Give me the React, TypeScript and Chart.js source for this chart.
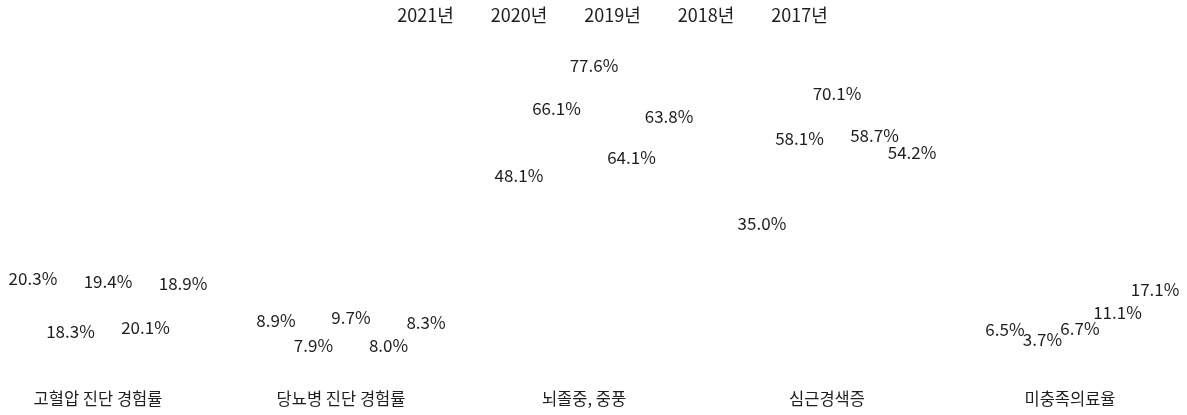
import { useEffect, useRef } from 'react';
import { Chart, registerables } from 'chart.js';

Chart.register(...registerables);

const categories = ['고혈압 진단 경험률', '당뇨병 진단 경험률', '뇌졸중, 중풍', '심근경색증', '미충족의료율'];
const seriesNames = ['2021년', '2020년', '2019년', '2018년', '2017년'];
const values2021 = [20.3, 8.9, 48.1, 35.0, 6.5];
const values2020 = [18.3, 7.9, 66.1, 58.1, 3.7];
const values2019 = [19.4, 9.7, 77.6, 70.1, 6.7];
const values2018 = [20.1, 8.0, 64.1, 58.7, 11.1];
const values2017 = [18.9, 8.3, 63.8, 54.2, 17.1];

// manual label displacement (px, downward) to mimic hand-placed labels in the reference
const labelNudge2021 = [0, 0, 0, 0, 0];
const labelNudge2020 = [46, 22, 0, 0, 0];
const labelNudge2019 = [0, 0, 0, 0, 0];
const labelNudge2018 = [49, 22, 42, 0, 0];
const labelNudge2017 = [0, 0, 0, 0, 0];

const FONT = "'Noto Sans CJK KR', 'Noto Sans', sans-serif";
const TEXT = '#1e1e1e';

export default function App() {
  const ref = useRef<HTMLCanvasElement | null>(null);

  useEffect(() => {
    if (!ref.current) return;
    const allValues = [values2021, values2020, values2019, values2018, values2017];
    const nudges = [labelNudge2021, labelNudge2020, labelNudge2019, labelNudge2018, labelNudge2017];

    const labelPlugin = {
      id: 'valueLabels',
      afterDatasetsDraw(chart: any) {
        const ctx = chart.ctx;
        ctx.save();
        ctx.font = `17px ${FONT}`;
        ctx.fillStyle = TEXT;
        ctx.textAlign = 'center';
        ctx.textBaseline = 'middle';
        chart.data.datasets.forEach((ds: any, di: number) => {
          const meta = chart.getDatasetMeta(di);
          if (meta.hidden) return;
          meta.data.forEach((el: any, i: number) => {
            const v = ds.data[i];
            ctx.fillText(`${v.toFixed(1)}%`, el.x, el.y + nudges[di][i]);
          });
        });
        ctx.restore();
      },
    };

    const chart = new Chart(ref.current, {
      type: 'bar',
      data: {
        labels: categories,
        datasets: seriesNames.map((name, i) => ({
          label: name,
          data: allValues[i],
          backgroundColor: 'rgba(0,0,0,0)',
          borderColor: 'rgba(0,0,0,0)',
          borderWidth: 0,
          categoryPercentage: 0.772,
          barPercentage: 0.9,
        })),
      },
      options: {
        animation: false,
        responsive: true,
        maintainAspectRatio: false,
        layout: { padding: { top: 6, left: 108, right: 107, bottom: 3 } },
        plugins: {
          legend: {
            display: true,
            position: 'top',
            labels: {
              font: { family: FONT, size: 18 },
              color: TEXT,
              boxWidth: 28,
              boxHeight: 18,
              padding: 0,
            },
          },
          tooltip: { enabled: false },
        },
        scales: {
          x: {
            offset: false,
            grid: { display: false },
            border: { display: false },
            ticks: {
              font: { family: FONT, size: 16.5 },
              color: TEXT,
              labelOffset: -10,
              maxRotation: 0,
              autoSkip: false,
            },
          },
          y: {
            display: false,
            min: -6.73,
            max: 86.2,
          },
        },
      },
      plugins: [labelPlugin],
    });

    return () => chart.destroy();
  }, []);

  return (
    <div style={{ position: 'absolute', left: 0, top: 0, width: 1187, height: 415 }}>
      <canvas ref={ref} />
    </div>
  );
}
